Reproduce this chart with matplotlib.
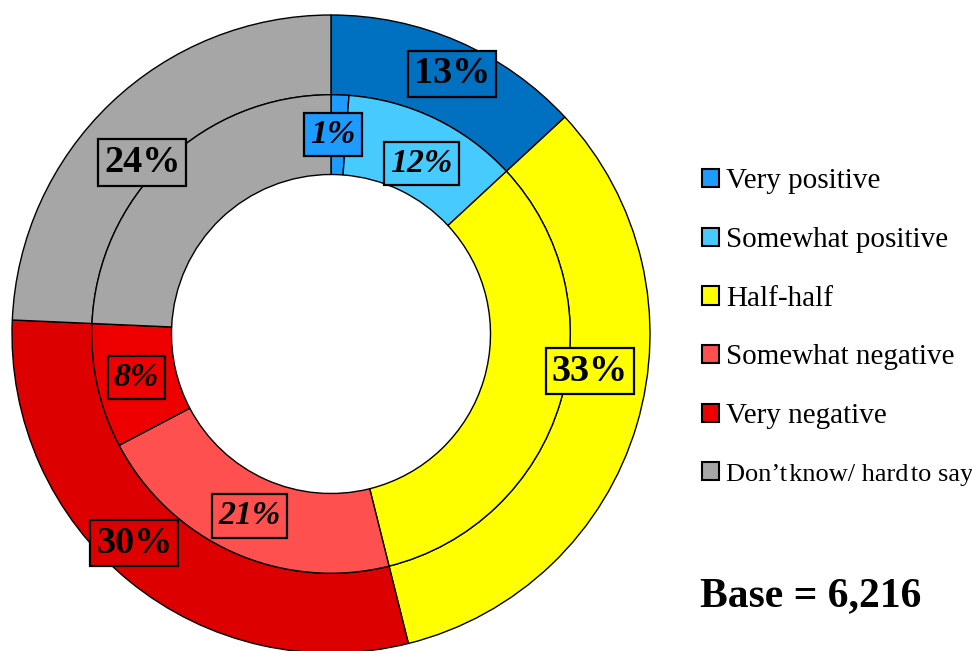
import numpy as np
import matplotlib.pyplot as plt

# inner ring: full answer scale, outer ring: grouped answers
categories = ['Very positive', 'Somewhat positive', 'Half-half',
              'Somewhat negative', 'Very negative',
              'Don\u2019t\u200aknow/ hard\u200ato say']
inner_values = [1.2, 11.9, 33.0, 21.2, 8.4, 24.3]
outer_groups = ['Positive', 'Half-half', 'Negative', 'Don\u2019t know']
outer_values = [13.1, 33.0, 29.6, 24.3]
base_n = 6216

inner_colors = ['#1E9BFF', '#47CBFF', '#FFFF00', '#FF5050', '#EE0000', '#A6A6A6']
outer_colors = ['#0070C0', '#FFFF00', '#DD0000', '#A6A6A6']

plt.rcParams['font.family'] = ['Liberation Serif', 'DejaVu Serif']

fig = plt.figure(figsize=(9.72, 6.51), dpi=100)
ax = fig.add_axes([12 / 972, -2 / 651, 638 / 972, 638 / 651])

edge = dict(edgecolor='black', linewidth=1.0)
outer, _ = ax.pie(outer_values, radius=1.0, colors=outer_colors,
                  startangle=90, counterclock=False,
                  wedgeprops=dict(width=0.25, **edge))
inner, _ = ax.pie(inner_values, radius=0.75, colors=inner_colors,
                  startangle=90, counterclock=False,
                  wedgeprops=dict(width=0.25, **edge))
ax.set_xlim(-1, 1)
ax.set_ylim(-1, 1)
ax.set_aspect('equal')
ax.axis('off')


def put_label(wedge, value, r, shift, size, style, color, pad):
    ang = np.deg2rad((wedge.theta1 + wedge.theta2) / 2 + shift)
    ax.text(r * np.cos(ang), r * np.sin(ang), f'{round(value)}%',
            ha='center', va='center', fontsize=size, fontweight='bold',
            fontstyle=style,
            bbox=dict(boxstyle=f'square,pad={pad}', fc=color, ec='black', lw=1.6))


# outer ring labels (half-half and don't know sit on the ring border)
outer_r = [0.90, 0.82, 0.90, 0.80]
outer_shift = [-1.4, 8.4, -4.0, 4.0]
for w, v, r, s, c in zip(outer, outer_values, outer_r, outer_shift, outer_colors):
    put_label(w, v, r, s, 27.5, 'normal', c, 0.15)

# inner ring labels: index -> (radius, angle shift)
inner_pos = {0: (0.625, 1.5), 1: (0.605, -2.3), 3: (0.625, 0.0), 4: (0.625, 0.0)}
for i, (r, s) in inner_pos.items():
    put_label(inner[i], inner_values[i], r, s, 24.5, 'italic',
              inner_colors[i], 0.18)

leg = fig.legend(inner, categories, loc='upper left',
                 bbox_to_anchor=(702 / 972, 1 - 168.5 / 651), frameon=False,
                 fontsize=21, handlelength=0.58, handleheight=0.58,
                 handletextpad=0.25, labelspacing=1.12, borderaxespad=0,
                 borderpad=0)
leg.get_texts()[-1].set_fontsize(19)
for h in leg.legend_handles:
    h.set_linewidth(1.5)

fig.text(700 / 972, 1 - 596 / 651, f'Base = {base_n:,}', fontsize=30,
         fontweight='bold', ha='left', va='center')

fig.savefig('out.png', dpi=100)
